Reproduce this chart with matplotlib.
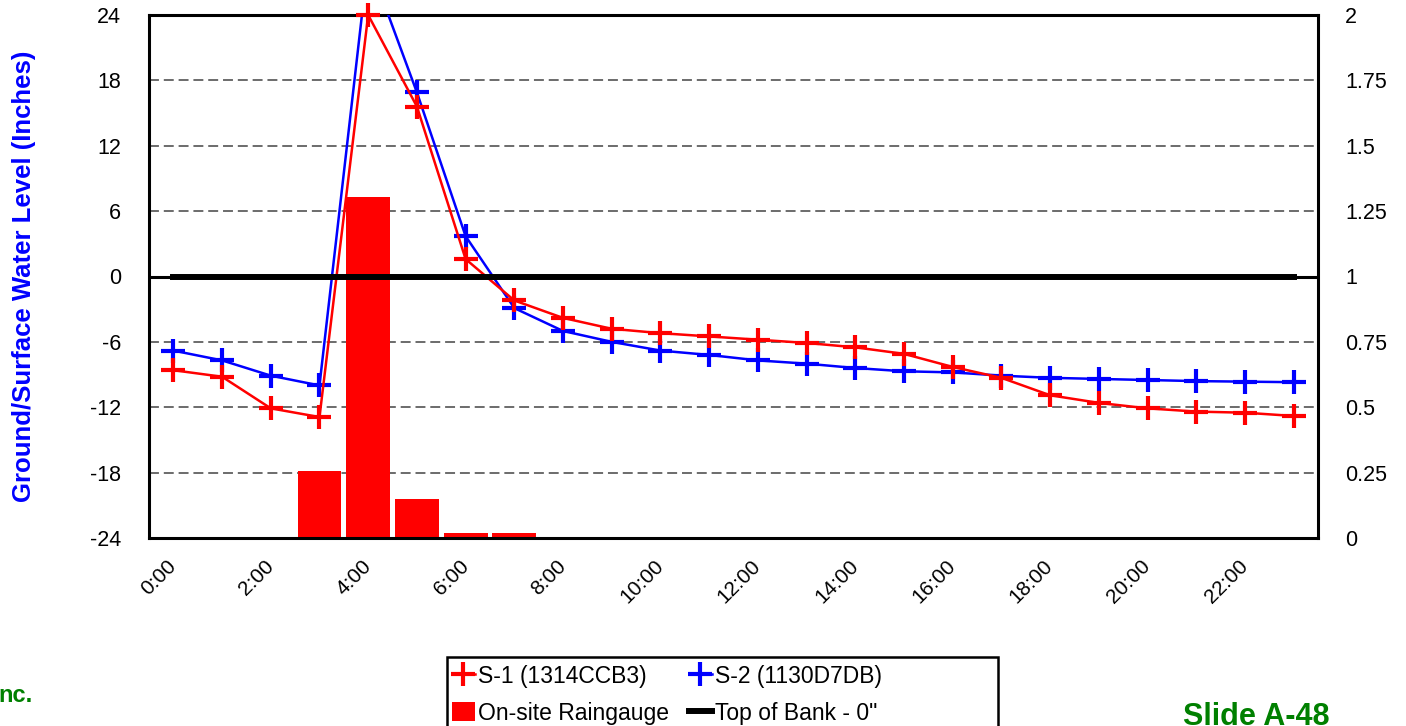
#
#   Ground/surface water level vs. on-site rainfall, hourly
#

import matplotlib
matplotlib.use('Agg')
import matplotlib.pyplot as plt
from matplotlib.patches import Rectangle
import numpy as np

plt.rcParams['font.family'] = ['Liberation Sans', 'DejaVu Sans']

#   Hourly data

hours = ['0:00', '1:00', '2:00', '3:00', '4:00', '5:00', '6:00', '7:00',
         '8:00', '9:00', '10:00', '11:00', '12:00', '13:00', '14:00', '15:00',
         '16:00', '17:00', '18:00', '19:00', '20:00', '21:00', '22:00', '23:00']

s1_level = [-8.6, -9.2, -12.1, -12.9, 24.0, 15.6, 1.6, -2.2,
            -3.8, -4.8, -5.2, -5.5, -5.8, -6.1, -6.5, -7.1,
            -8.3, -9.3, -10.9, -11.6, -12.1, -12.4, -12.5, -12.8]

s2_level = [-6.8, -7.7, -9.1, -10.0, 29.0, 16.9, 3.7, -2.9,
            -5.0, -6.0, -6.8, -7.2, -7.7, -8.0, -8.4, -8.7,
            -8.8, -9.1, -9.3, -9.4, -9.5, -9.6, -9.65, -9.7]

rain = [0, 0, 0, 0.256, 1.305, 0.148, 0.018, 0.018,
        0, 0, 0, 0, 0, 0, 0, 0,
        0, 0, 0, 0, 0, 0, 0, 0]

top_of_bank = [0.0] * len(hours)

left_ticks = [-24, -18, -12, -6, 0, 6, 12, 18, 24]
right_ticks = [0, 0.25, 0.5, 0.75, 1, 1.25, 1.5, 1.75, 2]
right_labels = ['0', '0.25', '0.5', '0.75', '1', '1.25', '1.5', '1.75', '2']

RED = '#ff0000'
BLUE = '#0000ff'
GREEN = '#008000'

x = np.arange(len(hours))

fig = plt.figure(figsize=(14.06, 7.26), dpi=100)
W, H = 1406.0, 726.0

ax = fig.add_axes([149 / W, 1 - 538 / H, (1318 - 149) / W, (538 - 15) / H])
ax2 = ax.twinx()

#   Rain bars live on the right axis, behind the level lines

ax.set_zorder(ax2.get_zorder() + 1)
ax.patch.set_visible(False)

ax2.bar(x, rain, width=0.9, color=RED, label='On-site Raingauge', zorder=2)
ax2.set_ylim(0, 2)
ax2.set_yticks(right_ticks)
ax2.set_yticklabels(right_labels)
ax2.yaxis.grid(True, linestyle=(0, (5.5, 2.7)), color='#606060', linewidth=1.3)
ax2.set_axisbelow(True)

#   Level lines on the left axis

ax.axhline(0, color='black', linewidth=2.2, zorder=1)

l2, = ax.plot(x, s2_level, color=BLUE, linewidth=1.8, marker='+',
              markersize=17.5, markeredgewidth=3.0, label='S-2 (1130D7DB)', zorder=3)
l1, = ax.plot(x, s1_level, color=RED, linewidth=1.8, marker='+',
              markersize=17.5, markeredgewidth=3.0, label='S-1 (1314CCB3)', zorder=4,
              clip_on=False)
lb, = ax.plot(x, top_of_bank, color='black', linewidth=4.3,
              label='Top of Bank - 0"', zorder=5)

ax.set_xlim(-0.5, len(hours) - 0.5)
ax.set_ylim(-24, 24)
ax.set_yticks(left_ticks)
ax.set_yticklabels([str(v) for v in left_ticks])

ax.set_xticks(x[::2])
ax.set_xticklabels(hours[::2], rotation=45, ha='right', va='center',
                   rotation_mode='anchor')

ax.tick_params(axis='y', length=0, pad=20, labelsize=15.5)
ax.tick_params(axis='x', length=0, pad=18, labelsize=15)
ax2.tick_params(axis='y', length=0, pad=19.5, labelsize=15.5)

for sp in ax.spines.values():
    sp.set_linewidth(2.2)
for sp in ax2.spines.values():
    sp.set_visible(False)

ax.set_ylabel('Ground/Surface Water Level (Inches)', color=BLUE,
              fontsize=18.5, fontweight='bold')
ax.yaxis.set_label_coords(-113 / (1318 - 149), 0.5)

#   Legend below the chart, partly cut by the slide edge

fig.add_artist(Rectangle((447 / W, -0.05), (998 - 447) / W, 0.05 + 1 - 657 / H,
                         transform=fig.transFigure, fill=False,
                         edgecolor='black', linewidth=1.8))

bars = ax2.containers[0]
leg = fig.legend([l1, bars, l2, lb],
                 ['S-1 (1314CCB3)', 'On-site Raingauge',
                  'S-2 (1130D7DB)', 'Top of Bank - 0"'],
                 ncol=2, loc='upper left',
                 bbox_to_anchor=(452 / W, 1 - 665 / H),
                 fontsize=16.5, frameon=False,
                 handlelength=1.0, handleheight=0.9, handletextpad=0.15,
                 columnspacing=0.85, labelspacing=0.6, borderpad=0,
                 borderaxespad=0)

fig.text(33 / W, 1 - 695 / H, 'nc.', color=GREEN, fontsize=17,
         fontweight='bold', ha='right', va='center')
fig.text(1183 / W, 1 - 702 / H, 'Slide A-48', color=GREEN, fontsize=22,
         fontweight='bold', ha='left', va='top')

fig.savefig('out.png', dpi=100)
